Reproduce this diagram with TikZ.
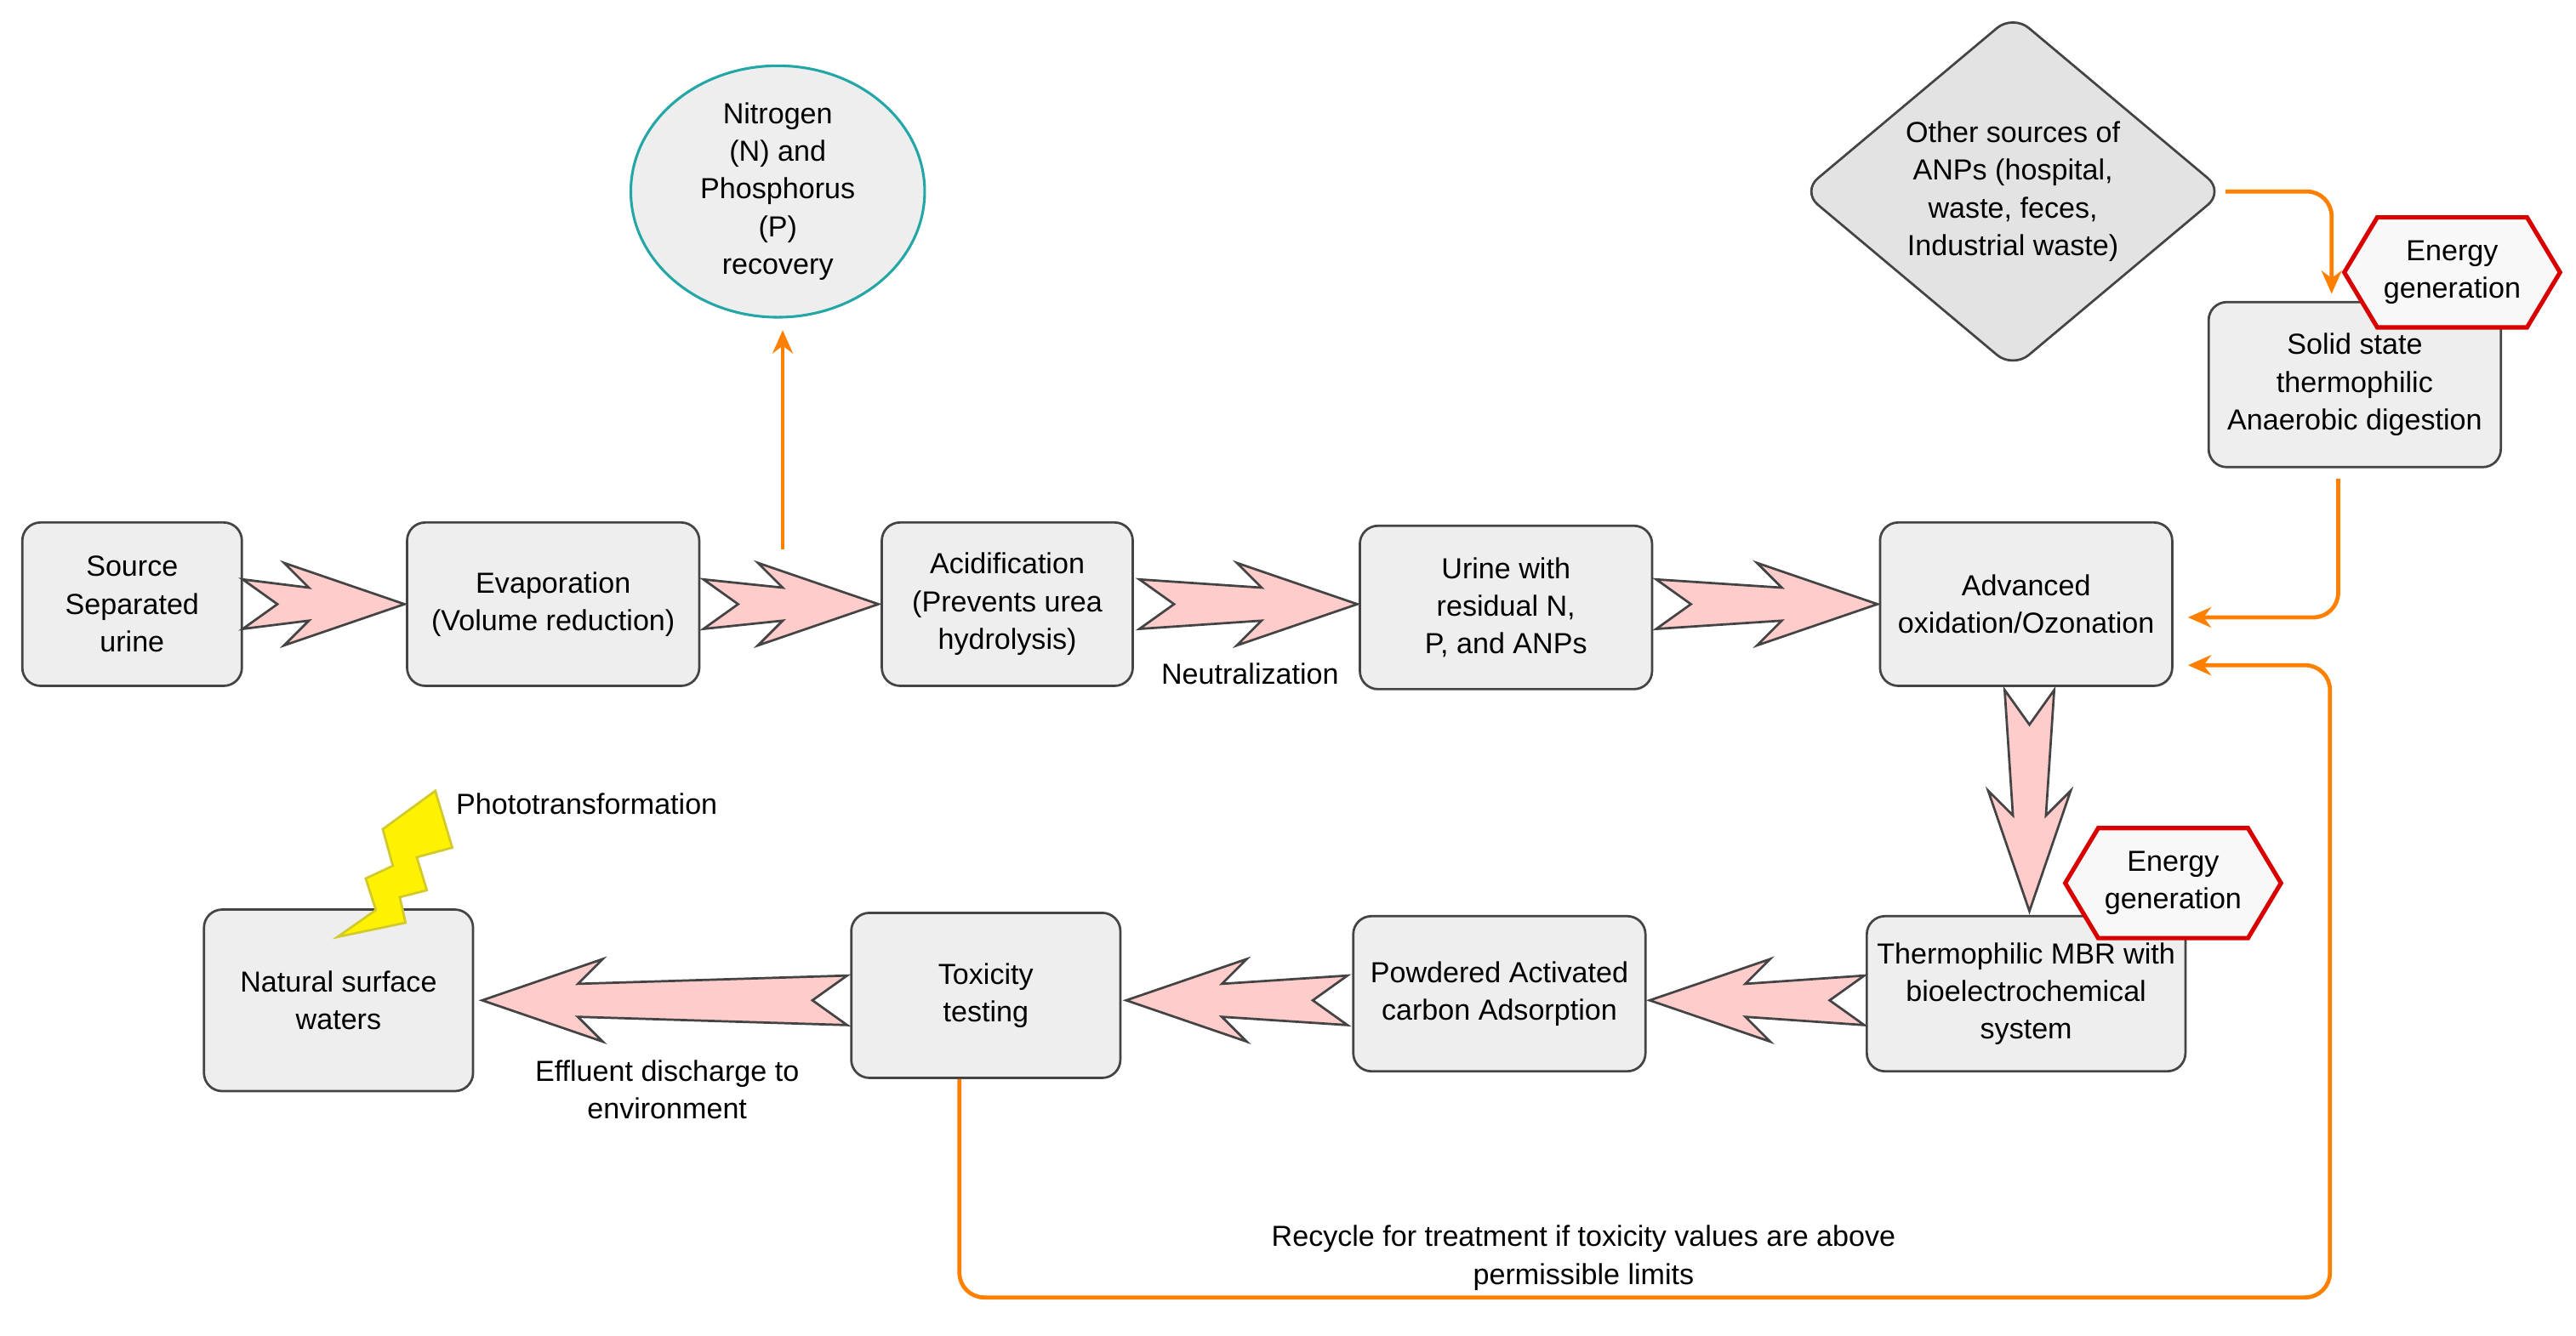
\documentclass[tikz,border=0pt]{standalone}
\usepackage{fontspec}
\setmainfont{Liberation Sans}
\usetikzlibrary{shapes.geometric,calc,arrows.meta}
\definecolor{boxfill}{HTML}{EEEEEE}
\definecolor{dfill}{HTML}{E3E3E3}
\definecolor{boxdraw}{HTML}{444444}
\definecolor{pinkfill}{HTML}{FFCCCC}
\definecolor{orng}{HTML}{FF8000}
\definecolor{teal}{HTML}{22A6A6}
\definecolor{hexred}{HTML}{D80000}
\tikzset{
  box/.style={draw=boxdraw,fill=boxfill,rounded corners=0.22cm,line width=0.8pt,align=center,inner sep=1pt,font=\fontsize{10pt}{13pt}\selectfont},
  fat/.style={draw=boxdraw,fill=pinkfill,line width=0.8pt,line join=miter},
  oline/.style={draw=orng,line width=1.4pt,rounded corners=0.3cm,-{Stealth[length=8pt,width=7pt]}},
  lbl/.style={align=center,font=\fontsize{10pt}{13pt}\selectfont},
  hexa/.style={draw=hexred,fill=boxfill!40,line width=1.5pt},
}
\newcommand\fatarrow[2]{%
\draw[fat] ($(#1)!0.3cm!90:(#2)$)
 -- ($(#2)!1.16cm!(#1)!0.2cm!-90:(#1)$)
 -- ($(#2)!1.46cm!(#1)!0.5cm!-90:(#1)$)
 -- (#2)
 -- ($(#2)!1.46cm!(#1)!0.5cm!90:(#1)$)
 -- ($(#2)!1.16cm!(#1)!0.2cm!90:(#1)$)
 -- ($(#1)!0.3cm!-90:(#2)$)
 -- ($(#1)!0.42cm!(#2)$) -- cycle;}
\newcommand\hexnode[4]{%
\node[lbl,minimum width=2.6cm,minimum height=1.32cm] (#1) at (#2) {#3};
\draw[hexa] (#1.west) -- ([xshift=0.4cm]#1.north west) -- ([xshift=-0.4cm]#1.north east) -- (#1.east) -- ([xshift=-0.4cm]#1.south east) -- ([xshift=0.4cm]#1.south west) -- cycle;
\node[lbl] at (#1) {#4};}
\begin{document}
\begin{tikzpicture}[x=0.02cm,y=-0.02cm]
\useasboundingbox[fill=white] (0,0) rectangle (1560,809);
% boxes
\node[box,minimum width=2.66cm,minimum height=1.98cm] (src) at (80,366) {Source\\Separated\\urine};
\node[box,minimum width=3.54cm,minimum height=1.98cm] (evap) at (335,366) {Evaporation\\(Volume reduction)};
\node[box,minimum width=3.04cm,minimum height=1.98cm] (acid) at (610,366) {Acidification\\(Prevents urea\\hydrolysis)};
\node[box,minimum width=3.54cm,minimum height=1.98cm] (urine) at (912,368) {Urine with\\residual N,\\P, and ANPs};
\node[box,minimum width=3.54cm,minimum height=1.98cm] (adv) at (1227,366) {Advanced\\oxidation/Ozonation};
\node[box,minimum width=3.54cm,minimum height=2.0cm] (solid) at (1426,233) {Solid state\\thermophilic\\Anaerobic digestion};
\node[box,minimum width=3.86cm,minimum height=1.88cm] (mbr) at (1227,602) {Thermophilic MBR with\\bioelectrochemical\\system};
\node[box,minimum width=3.54cm,minimum height=1.88cm] (pac) at (908,602) {Powdered Activated\\carbon Adsorption};
\node[box,minimum width=3.26cm,minimum height=2.0cm] (tox) at (597,603) {Toxicity\\testing};
\node[box,minimum width=3.26cm,minimum height=2.2cm] (nat) at (205,606) {Natural surface\\waters};
\node[draw=teal,fill=boxfill,line width=0.9pt,ellipse,minimum width=3.56cm,minimum height=2.68cm,inner sep=0pt,align=center,font=\fontsize{10pt}{13pt}\selectfont] (np) at (471,116) {Nitrogen\\(N) and\\Phosphorus\\(P)\\recovery};
\node[draw=boxdraw,fill=dfill,line width=0.8pt,diamond,rounded corners=0.25cm,minimum width=5.12cm,minimum height=3.84cm,inner sep=0pt,align=center,font=\fontsize{10pt}{13pt}\selectfont] (oth) at (1219,116) {Other sources of\\ANPs (hospital,\\waste, feces,\\Industrial waste)};
\hexnode{e1}{1485,165}{\phantom{X}}{Energy\\generation}
\hexnode{e2}{1316,535}{\phantom{X}}{Energy\\generation}
% fat arrows
\coordinate (a1) at (147,366); \coordinate (b1) at (245,366);
\coordinate (a2) at (426,366); \coordinate (b2) at (532,366);
\coordinate (a3) at (690,366); \coordinate (b3) at (822,366);
\coordinate (a4) at (1003,366); \coordinate (b4) at (1137,366);
\coordinate (a5) at (1229,418); \coordinate (b5) at (1229,552);
\coordinate (a6) at (1129,606); \coordinate (b6) at (999,606);
\coordinate (a7) at (816,606); \coordinate (b7) at (682,606);
\coordinate (a8) at (513,606); \coordinate (b8) at (292,606);
\fatarrow{a1}{b1}\fatarrow{a2}{b2}\fatarrow{a3}{b3}\fatarrow{a4}{b4}
\fatarrow{a5}{b5}\fatarrow{a6}{b6}\fatarrow{a7}{b7}\fatarrow{a8}{b8}
% orange connectors
\coordinate (o1) at (474,333); \coordinate (o1e) at (474,200);
\draw[oline] (o1) -- (o1e);
\draw[oline] (oth.east) -- (1412,116) -- (1412,178);
\coordinate (s2) at (1416,290);
\draw[oline] (s2) -- (1416,374) -- (1325,374);
\draw[oline] (tox.south -| 581,0) -- (581,786) -- (1411,786) -- (1411,403) -- (1325,403);
% lightning
\draw[fill=yellow,draw=yellow!80!black,line width=0.8pt,line join=miter] (263.6,479.1) -- (273.9,513.5) -- (252.4,519.3) -- (258.5,539.3) -- (242.1,543.5) -- (245.6,559) -- (204.4,567.6) -- (227.6,551.3) -- (221.5,532.2) -- (237.9,524.5) -- (231.8,502.3) -- cycle;
% labels
\node[lbl] (neu) at (757,408) {Neutralization};
\node[lbl] (eff) at (404,660) {Effluent discharge to\\environment};
\node[lbl,anchor=west] (pho) at (270,487) {Phototransformation};
\node[lbl] (rec) at (959,762) {Recycle for treatment if toxicity values are above\\permissible limits};
\end{tikzpicture}
\end{document}
